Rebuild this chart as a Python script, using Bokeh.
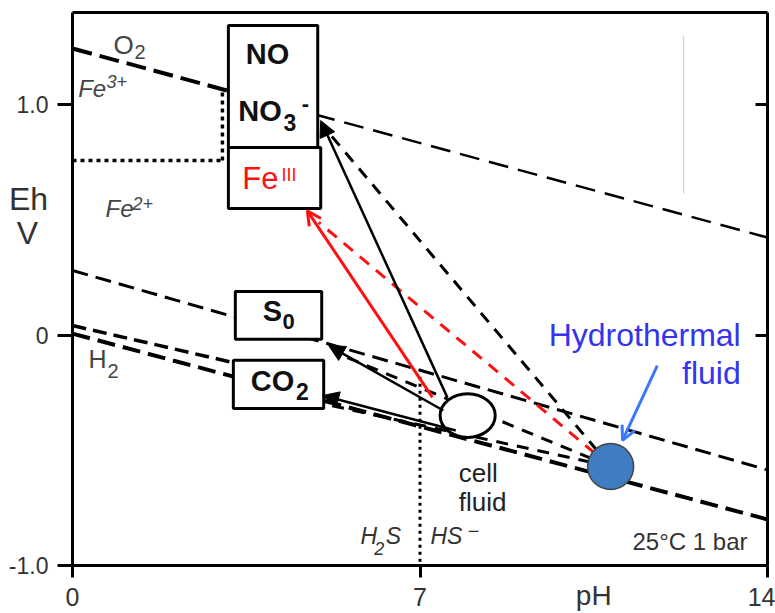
from bokeh.plotting import figure
from bokeh.models import (ColumnDataSource, Range1d, LinearAxis, FixedTicker,
                          Arrow, NormalHead, OpenHead)
from bokeh.core.properties import value
from bokeh.embed import file_html
from bokeh.resources import INLINE

FONT = "Liberation Sans"

# ---------------- data (pH, Eh in V) ----------------
x_ticks = [0, 7, 14]
y_ticks = [-1.0, 0.0, 1.0]
y_tick_labels = {-1.0: "-1.0", 0.0: "0", 1.0: "1.0"}
ph_min, ph_max = 0.0, 14.0
eh_min, eh_max = -1.0, 1.4

# water / O2 boundary
o2_left_ph = [0.0, 3.14]
o2_left_eh = [1.245, 1.061]
o2_right_ph = [3.14, 14.0]
o2_right_eh = [1.061, 0.424]
# Fe3+/Fe2+ boundaries (dotted)
fe_h_ph = [0.0, 3.02]
fe_h_eh = [0.759, 0.759]
fe_v_ph = [3.02, 3.02]
fe_v_eh = [0.759, 1.068]
# sulfur line
s_ph = [0.0, 14.0]
s_eh = [0.281, -0.585]
# H2 lines
h2a_ph = [0.0, 3.24]
h2a_eh = [0.042, -0.119]
h2b_ph = [0.0, 14.0]
h2b_eh = [0.007, -0.800]
# H2S / HS- boundary (dotted)
hs_ph = [7.0, 7.0]
hs_eh = [-0.18, -1.0]
# faint vertical line
gray_ph = [12.31, 12.31]
gray_eh = [0.615, 1.30]

# electron-acceptor boxes: NO/NO3-, Fe III, S0, CO2
box_left = [3.14, 3.14, 3.28, 3.24]
box_right = [4.94, 5.00, 5.02, 5.06]
box_top = [1.345, 0.815, 0.19, -0.109]
box_bottom = [0.815, 0.550, -0.018, -0.318]

# hydrothermal fluid and cell fluid
hyd_ph = [10.84]
hyd_eh = [-0.57]
cell_ph = [7.96]
cell_eh = [-0.349]
cell_w = [1.11]
cell_h = [0.19]

# dashed lines from hydrothermal fluid to acceptors
hd_black_ph = [5.04, 5.30, 5.20]
hd_black_eh = [0.91, -0.076, -0.305]
hd_red_ph = [4.96]
hd_red_eh = [0.49]

# solid arrows from cell fluid to acceptors
ca_x0 = [7.55, 7.47, 7.72]
ca_y0 = [-0.27, -0.327, -0.414]
ca_x1 = [5.00, 5.16, 5.04]
ca_y1 = [0.932, -0.045, -0.262]
cr_x0 = [7.25]
cr_y0 = [-0.27]
cr_x1 = [4.73]
cr_y1 = [0.54]
# blue pointer
blue_x0 = [11.78]
blue_y0 = [-0.132]
blue_x1 = [11.08]
blue_y1 = [-0.457]

# text pieces: text, pH, Eh (baseline), size px, style, color, align
texts = [
    ("O", 0.826, 1.214, 26, "normal", "#444444", "left"),
    ("2", 1.25, 1.193, 20, "normal", "#444444", "left"),
    ("Fe", 0.115, 1.028, 24, "italic", "#444444", "left"),
    ("3+", 0.685, 1.071, 18, "italic", "#444444", "left"),
    ("Fe", 0.665, 0.507, 24, "italic", "#444444", "left"),
    ("2+", 1.21, 0.542, 18, "italic", "#444444", "left"),
    ("NO", 3.49, 1.171, 29, "bold", "#111111", "left"),
    ("NO", 3.34, 0.924, 29, "bold", "#111111", "left"),
    ("3", 4.25, 0.885, 23, "bold", "#111111", "left"),
    ("-", 4.62, 0.966, 22, "bold", "#111111", "left"),
    ("Fe", 3.42, 0.628, 31, "normal", "#ff1010", "left"),
    ("III", 4.21, 0.663, 18, "normal", "#ff1010", "left"),
    ("S", 3.83, 0.055, 29, "bold", "#111111", "left"),
    ("0", 4.23, 0.020, 22, "bold", "#111111", "left"),
    ("CO", 3.59, -0.250, 29, "bold", "#111111", "left"),
    ("2", 4.50, -0.284, 23, "bold", "#111111", "left"),
    ("H", 0.32, -0.146, 25, "normal", "#444444", "left"),
    ("2", 0.705, -0.189, 20, "normal", "#444444", "left"),
    ("H", 5.80, -0.913, 23, "italic", "#333333", "left"),
    ("2", 6.08, -0.956, 18, "italic", "#333333", "left"),
    ("S", 6.31, -0.913, 23, "italic", "#333333", "left"),
    ("HS", 7.21, -0.913, 23, "italic", "#333333", "left"),
    ("\u2212", 7.96, -0.887, 20, "normal", "#333333", "left"),
    ("cell", 7.78, -0.644, 26, "normal", "#222222", "left"),
    ("fluid", 7.78, -0.770, 26, "normal", "#222222", "left"),
    ("Hydrothermal", 13.46, -0.053, 32, "normal", "#3434ee", "right"),
    ("fluid", 13.46, -0.218, 32, "normal", "#3434ee", "right"),
    ("25\u00b0C 1 bar", 11.28, -0.936, 24, "normal", "#333333", "left"),
    ("Eh", -0.886, 0.535, 32, "normal", "#333333", "center"),
    ("V", -0.906, 0.39, 32, "normal", "#333333", "center"),
    ("pH", 10.5, -1.178, 28, "normal", "#333333", "center"),
]

# ---------------- figure ----------------
# the frame fills the whole canvas; axes are drawn at fixed data locations
p = figure(width=775, height=613, x_range=Range1d(-1.4504, 14.161), y_range=Range1d(-1.2084, 1.4533),
           output_backend="svg", toolbar_location=None,
           x_axis_type=None, y_axis_type=None,
           min_border_left=0, min_border_right=0, min_border_top=0, min_border_bottom=0)
p.outline_line_color = None
p.background_fill_color = "white"
p.border_fill_color = "white"


def styled_axis(ticks, loc, bounds, tick_in=0, tick_out=0, size="0px", standoff=6, overrides=None):
    ax = LinearAxis(ticker=FixedTicker(ticks=ticks), fixed_location=loc, bounds=bounds)
    if overrides:
        ax.major_label_overrides = overrides
    ax.axis_line_width = 3
    ax.axis_line_color = "black"
    ax.major_tick_line_width = 3
    ax.major_tick_in = tick_in
    ax.major_tick_out = tick_out
    ax.minor_tick_out = 0
    ax.minor_tick_in = 0
    ax.major_label_standoff = standoff
    ax.major_label_text_font = FONT
    ax.major_label_text_font_size = size
    ax.major_label_text_color = "#333333"
    return ax


left = styled_axis(y_ticks, ph_min, (eh_min, eh_max), tick_out=15, size="23px",
                   standoff=9, overrides=y_tick_labels)
p.add_layout(left, "left")
bottom = styled_axis(x_ticks, eh_min, (ph_min, ph_max), tick_out=12, size="25px", standoff=10)
p.add_layout(bottom, "below")
right = styled_axis([0.0, 1.0], ph_max, (eh_min, eh_max), tick_in=12)
right.major_label_text_alpha = 0
p.add_layout(right, "right")
top = styled_axis([], eh_max, (ph_min, ph_max))
top.major_label_text_alpha = 0
p.add_layout(top, "above")

# ---------------- boundary lines ----------------
p.line(gray_ph, gray_eh, line_color="#cccccc", line_width=1)
p.line(o2_left_ph, o2_left_eh, line_color="black", line_width=4, line_dash="20 8")
p.line(o2_right_ph, o2_right_eh, line_color="black", line_width=2.5, line_dash="20 10")
p.line(fe_h_ph, fe_h_eh, line_color="black", line_width=3.5, line_dash="4 4")
p.line(fe_v_ph, fe_v_eh, line_color="black", line_width=3.5, line_dash="4 4")
p.line(s_ph, s_eh, line_color="black", line_width=3, line_dash="16 8")
p.line(h2a_ph, h2a_eh, line_color="black", line_width=3.5, line_dash="14 7")
p.line(h2b_ph, h2b_eh, line_color="black", line_width=4, line_dash="18 8")
p.line(hs_ph, hs_eh, line_color="black", line_width=3, line_dash="3 4")

# dashed connections from hydrothermal fluid
for tx, ty in zip(hd_black_ph, hd_black_eh):
    p.line([hyd_ph[0], tx], [hyd_eh[0], ty], line_color="black", line_width=3, line_dash="12 9")
for tx, ty in zip(hd_red_ph, hd_red_eh):
    p.line([hyd_ph[0], tx], [hyd_eh[0], ty], line_color="#ff1010", line_width=3, line_dash="12 9")

# boxes
p.quad(left=box_left, right=box_right, top=box_top, bottom=box_bottom,
       fill_color="white", line_color="black", line_width=3)

# cell fluid and hydrothermal fluid
p.ellipse(x=cell_ph, y=cell_eh, width=cell_w, height=cell_h,
          fill_color="white", line_color="black", line_width=3)
p.scatter(x=hyd_ph, y=hyd_eh, size=46, marker="circle",
          fill_color="#3f7cc2", line_color="#444444", line_width=1.5)

# arrows from cell fluid
src_black = ColumnDataSource(dict(x0=ca_x0, y0=ca_y0, x1=ca_x1, y1=ca_y1))
p.add_layout(Arrow(end=NormalHead(size=16, fill_color="black", line_color="black", line_width=1),
                   x_start="x0", y_start="y0", x_end="x1", y_end="y1",
                   source=src_black, line_color="black", line_width=2.5))
src_red = ColumnDataSource(dict(x0=cr_x0, y0=cr_y0, x1=cr_x1, y1=cr_y1))
p.add_layout(Arrow(end=OpenHead(size=14, line_color="#ff1010", line_width=3),
                   x_start="x0", y_start="y0", x_end="x1", y_end="y1",
                   source=src_red, line_color="#ff1010", line_width=3))
src_blue = ColumnDataSource(dict(x0=blue_x0, y0=blue_y0, x1=blue_x1, y1=blue_y1))
p.add_layout(Arrow(end=OpenHead(size=14, line_color="#3a78ff", line_width=3),
                   x_start="x0", y_start="y0", x_end="x1", y_end="y1",
                   source=src_blue, line_color="#3a78ff", line_width=3))

# texts (baseline correction: lift by a fraction of the font size)
tsrc = ColumnDataSource(dict(
    text=[t[0] for t in texts], x=[t[1] for t in texts], y=[t[2] for t in texts],
    size=["%dpx" % t[3] for t in texts], yoff=[-0.4 * t[3] for t in texts],
    style=[t[4] for t in texts], color=[t[5] for t in texts], align=[t[6] for t in texts]))
p.text(x="x", y="y", text="text", source=tsrc, text_font=value(FONT),
       text_font_size="size", text_font_style="style", text_color="color",
       text_align="align", text_baseline="alphabetic", y_offset="yoff")

open("out.html", "w").write(file_html(p, INLINE))
